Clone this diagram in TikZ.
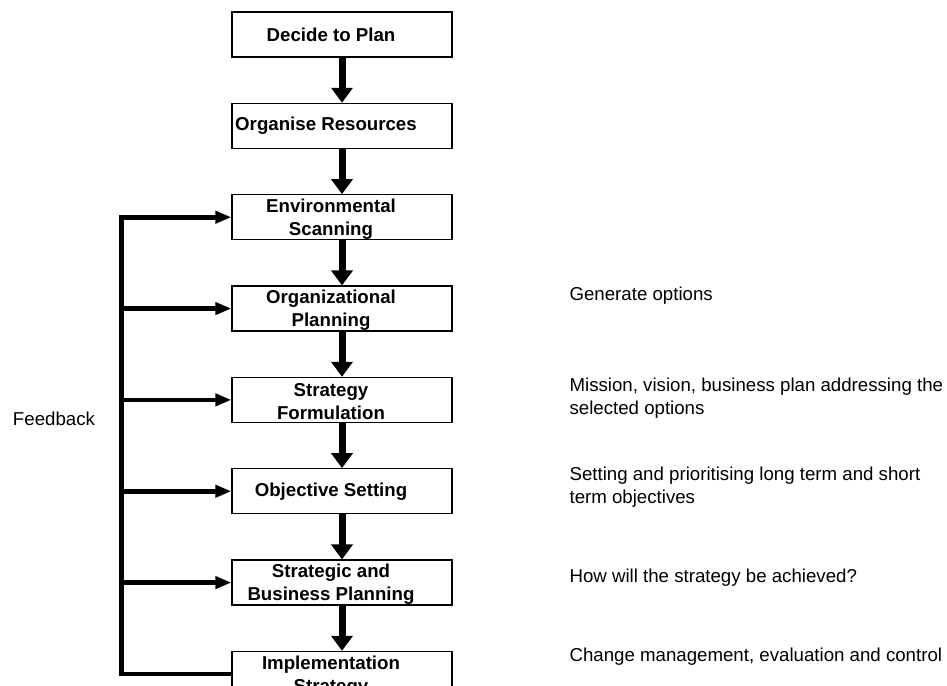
\documentclass[tikz,border=0pt]{standalone}
\usepackage{fontspec}
\setmainfont{Liberation Sans}
\usetikzlibrary{arrows.meta,positioning}

\begin{document}
\begin{tikzpicture}[
  x=0.75pt, y=-0.75pt,
  font=\fontsize{14}{17.25}\selectfont,
  box/.style={draw, line width=0.9pt, minimum width=165pt, minimum height=33.75pt, inner sep=0pt},
  boxtext/.style={font=\fontsize{14}{17.25}\selectfont\bfseries, align=center, inner sep=0pt,
                  xshift=-8.25pt, yshift=-1.5pt},
  note/.style={anchor=west, align=left, inner sep=0pt},
  arr/.style={-{Triangle[length=11.25pt, width=15.75pt]}, line width=5.25pt},
  fbarr/.style={-{Triangle[length=12pt, width=9pt]}, line width=3.5pt, line join=miter},
]
\clip (0,0) rectangle (947,686);

%% ---------- process boxes ----------
\node[box] (decide) at (342,34.5) {};
\node[box, below=33.86pt of decide] (orgres) {};
\node[box, below=33.86pt of orgres] (env) {};
\node[box, below=33.86pt of env] (orgplan) {};
\node[box, below=33.86pt of orgplan] (strat) {};
\node[box, below=33.86pt of strat] (obj) {};
\node[box, below=33.86pt of obj] (sbp) {};
\node[box, below=33.86pt of sbp] (impl) {};

\node[boxtext, yshift=1.5pt] (decide-t) at (decide) {Decide to Plan};
\node[boxtext, xshift=-3.75pt, yshift=1.5pt] (orgres-t) at (orgres) {Organise Resources};
\node[boxtext] (env-t) at (env) {Environmental\\Scanning};
\node[boxtext] (orgplan-t) at (orgplan) {Organizational\\Planning};
\node[boxtext] (strat-t) at (strat) {Strategy\\Formulation};
\node[boxtext, yshift=1pt] (obj-t) at (obj) {Objective Setting};
\node[boxtext] (sbp-t) at (sbp) {Strategic and\\Business Planning};
\node[boxtext] (impl-t) at (impl) {Implementation\\Strategy};

\foreach \a/\b in {decide/orgres, orgres/env, env/orgplan, orgplan/strat, strat/obj, obj/sbp, sbp/impl}
  \draw[arr] (\a) -- (\b);

%% ---------- feedback loop ----------
\coordinate (fb) at (121.7,0);
\node[note] (feedback) at (12.7,418.5) {Feedback};
\draw[fbarr] (impl.west) -| (fb |- env.west) -- (env.west);
\foreach \n in {orgplan, strat, obj, sbp}
  \draw[fbarr] (fb |- \n.west) -- (\n.west);

%% ---------- notes ----------
\node[note] (generate) at (569.3,296) {Generate options};
\node[note] (mission) at (569.3,398) {Mission, vision, business plan addressing the\\selected options};
\node[note] (setting) at (569.3,487.2) {Setting and prioritising long term and short\\term objectives};
\node[note] (how) at (569.3,577.7) {How will the strategy be achieved?};
\node[note] (change) at (569.3,656.7) {Change management, evaluation and control};

\end{tikzpicture}
\end{document}
